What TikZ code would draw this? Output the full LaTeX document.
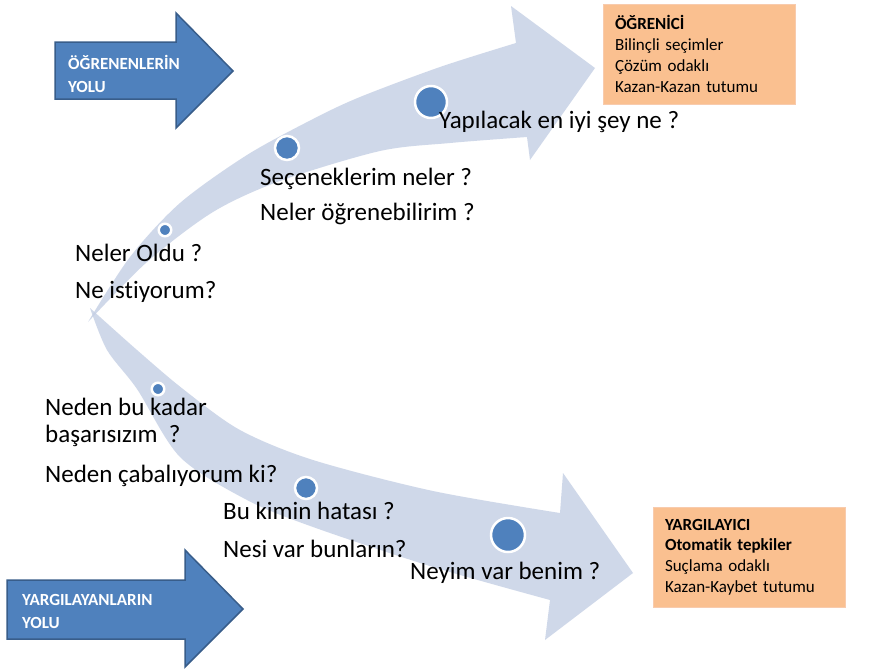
\documentclass[tikz,border=0pt]{standalone}
\usepackage{fontspec}
\setmainfont{Carlito}[Ligatures={NoCommon}]
\definecolor{band}{RGB}{196,207,228}
\definecolor{dotblue}{RGB}{79,129,189}
\definecolor{arrowline}{RGB}{56,93,138}
\definecolor{boxfill}{RGB}{250,192,144}
\definecolor{boxline}{RGB}{248,203,173}
\begin{document}
\begin{tikzpicture}[x=1pt,y=-1pt,
  bandfill/.style={fill=band, fill opacity=0.8},
  dotnode/.style={circle, fill=dotblue, draw=white, line width=2.5pt, inner sep=0pt},
  qlabel/.style={anchor=base west, inner sep=0pt, font=\fontsize{25}{30}\selectfont},
  blockarrow/.style={fill=dotblue, draw=arrowline, line width=1.5pt, line join=miter},
  arrowtext/.style={anchor=west, inner sep=0pt, align=left, text=white, font=\fontsize{17}{23}\selectfont\bfseries},
  infobox/.style={fill=boxfill, draw=boxline, line width=1pt, minimum width=192pt, minimum height=100pt, text width=168pt, align=left, inner sep=0pt, font=\fontsize{17}{20.8}\selectfont}]
\useasboundingbox (0,0) rectangle (870,670);
\fill[white] (0,0) rectangle (870,670);

% curved bands
\fill[bandfill] plot[smooth] coordinates {(88,322) (130,257) (180,203) (247,155) (313,119) (360,97) (440,67) (516,43)}
  -- (511,6) -- (595,68) -- (530,160) -- (527,137)
  -- plot[smooth] coordinates {(527,137) (450,143) (380,151) (280,181) (213,212) (147,262) (88,322)} -- cycle;
\fill[bandfill] plot[smooth] coordinates {(90,308) (137,350) (183,389) (240,430) (313,460) (433,491) (560,513)}
  -- (563,473) -- (633,573) -- (545,640) -- (550,600)
  -- plot[smooth] coordinates {(550,600) (433,567) (313,527) (247,500) (180,457) (137,389) (107,350) (90,308)} -- cycle;

% dots
\node[dotnode, minimum size=12.5pt] (d1) at (165,230) {};
\node[dotnode, minimum size=24pt] (d2) at (287,148) {};
\node[dotnode, minimum size=32pt] (d3) at (431,102) {};
\node[dotnode, minimum size=12.5pt] (d4) at (158,389) {};
\node[dotnode, minimum size=22pt] (d5) at (306,488) {};
\node[dotnode, minimum size=34pt] (d6) at (508,535) {};

% labels
\node[qlabel] (t1) at (75,261) {Neler Oldu ?};
\node[qlabel] (t2) at (75,298) {Ne istiyorum?};
\node[qlabel] (t3) at (260,185) {Seçeneklerim neler ?};
\node[qlabel] (t4) at (260,220) {Neler öğrenebilirim ?};
\node[qlabel] (t5) at (439,128) {Yapılacak en iyi şey ne ?};
\node[qlabel] (t6) at (45,415) {Neden bu kadar};
\node[qlabel] (t7) at (45,442) {başarısızım\ \ ?};
\node[qlabel] (t8) at (45,482) {Neden çabalıyorum ki?};
\node[qlabel] (t9) at (223,519) {Bu kimin hatası ?};
\node[qlabel] (t10) at (223,557) {Nesi var bunların?};
\node[qlabel] (t11) at (410,579) {Neyim var benim ?};

% block arrows
\draw[blockarrow] (55,42) -- (176,42) -- (176,13) -- (233,71) -- (176,128) -- (176,99) -- (55,99) -- cycle;
\node[arrowtext] (a1) at (68,73.5) {ÖĞRENENLERİN\\YOLU};
\draw[blockarrow] (7,580) -- (185,580) -- (185,550) -- (243,609) -- (185,667) -- (185,639) -- (7,639) -- cycle;
\node[arrowtext] (a2) at (22,611.5) {YARGILAYANLARIN\\YOLU};

% boxes
\node[infobox] (b1) at (699,54) {\textbf{ÖĞRENİCİ}\\Bilinçli seçimler\\Çözüm odaklı\\Kazan-Kazan tutumu};
\node[infobox] (b2) at (749,557) {\textbf{YARGILAYICI}\\\textbf{Otomatik tepkiler}\\Suçlama odaklı\\Kazan-Kaybet tutumu};
\end{tikzpicture}
\end{document}
